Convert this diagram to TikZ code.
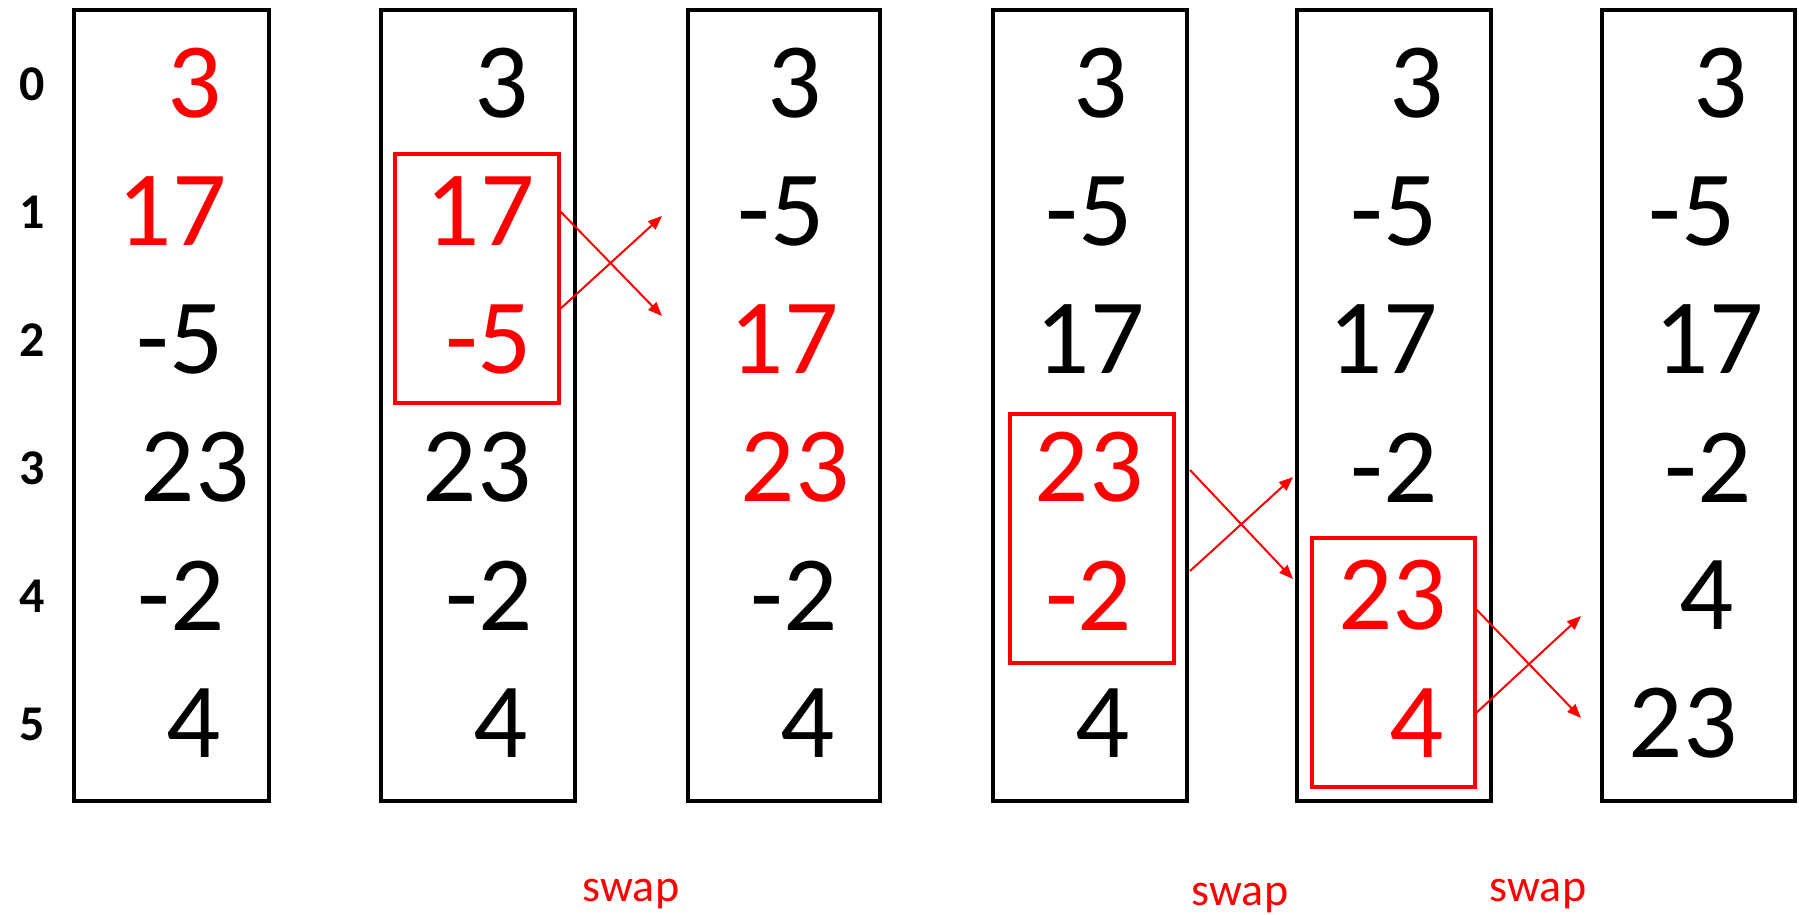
\documentclass[tikz,border=0pt]{standalone}
\usepackage{fontspec}
\setmainfont{Carlito}
\usetikzlibrary{arrows.meta}
\definecolor{hred}{RGB}{255,0,0}
\begin{document}
\begin{tikzpicture}[x=1pt,y=-1pt,
  colbox/.style={draw=black,line width=4pt,inner sep=0pt,outer sep=0pt,minimum height=791pt},
  redbox/.style={draw=hred,line width=4pt,inner sep=0pt,outer sep=0pt,minimum width=164pt,minimum height=249pt},
  num/.style={inner sep=0pt,font=\fontsize{107}{120}\selectfont},
  rnum/.style={num,text=hred},
  idx/.style={inner sep=0pt,font=\fontsize{50}{54}\selectfont\bfseries},
  swaplbl/.style={inner sep=0pt,anchor=base,text=hred,font=\fontsize{46}{50}\selectfont},
  swaparrow/.style={draw=hred,line width=2pt,-{Triangle[length=14pt,width=11pt]}}]
\useasboundingbox (0,0) rectangle (1799,914);
% columns
\node[colbox,minimum width=195pt] (c1) at (171.5,405.5) {};
\node[colbox,minimum width=194pt] (c2) at (478,405.5) {};
\node[colbox,minimum width=192pt] (c3) at (784,405.5) {};
\node[colbox,minimum width=194pt] (c4) at (1090,405.5) {};
\node[colbox,minimum width=194pt] (c5) at (1394,405.5) {};
\node[colbox,minimum width=193pt] (c6) at (1698.5,405.5) {};
% index labels
\node[idx] (i0) at (32,84) {0};
\node[idx] (i1) at (32,212) {1};
\node[idx] (i2) at (32,340) {2};
\node[idx] (i3) at (32,468) {3};
\node[idx] (i4) at (32,596) {4};
\node[idx] (i5) at (32,724) {5};
% column 1
\node[rnum] (n10) at (195,83.5) {3};
\node[rnum] (n11) at (172,211.5) {17};
\node[num] (n12) at (180,339.5) {-5};
\node[num] (n13) at (195,467.5) {23};
\node[num] (n14) at (181,595.5) {-2};
\node[num] (n15) at (194,723.5) {4};
% column 2
\node[num] (n20) at (502,83.5) {3};
\node[rnum] (n21) at (480,211.5) {17};
\node[rnum] (n22) at (488.5,339.5) {-5};
\node[num] (n23) at (477,467.5) {23};
\node[num] (n24) at (489,595.5) {-2};
\node[num] (n25) at (501,723.5) {4};
% column 3
\node[num] (n30) at (795,83.5) {3};
\node[num] (n31) at (781,211.5) {-5};
\node[rnum] (n32) at (784,339.5) {17};
\node[rnum] (n33) at (795,467.5) {23};
\node[num] (n34) at (794,595.5) {-2};
\node[num] (n35) at (808,723.5) {4};
% column 4
\node[num] (n40) at (1101,83.5) {3};
\node[num] (n41) at (1089,211.5) {-5};
\node[num] (n42) at (1090,339.5) {17};
\node[rnum] (n43) at (1089,467.5) {23};
\node[rnum] (n44) at (1088.5,595.5) {-2};
\node[num] (n45) at (1103,723.5) {4};
% column 5
\node[num] (n50) at (1417,83.5) {3};
\node[num] (n51) at (1394,211.5) {-5};
\node[num] (n52) at (1383,339.5) {17};
\node[num] (n53) at (1394,467.5) {-2};
\node[rnum] (n54) at (1392.5,595.5) {23};
\node[rnum] (n55) at (1417,723.5) {4};
% column 6
\node[num] (n60) at (1721,83.5) {3};
\node[num] (n61) at (1692,211.5) {-5};
\node[num] (n62) at (1709,339.5) {17};
\node[num] (n63) at (1708,467.5) {-2};
\node[num] (n64) at (1707,595.5) {4};
\node[num] (n65) at (1683,723.5) {23};
% red boxes
\node[redbox] (b2) at (477,278.5) {};
\node[redbox] (b4) at (1092,538.5) {};
\node[redbox,minimum width=163pt] (b5) at (1393.5,662.5) {};
% arrow end points
\coordinate (a1s) at (559,210);
\coordinate (a1e) at (662,316);
\coordinate (a2s) at (559,310);
\coordinate (a2e) at (662,216);
\coordinate (a3s) at (1190,470);
\coordinate (a3e) at (1293,579);
\coordinate (a4s) at (1190,571);
\coordinate (a4e) at (1293,477);
\coordinate (a5s) at (1475,608);
\coordinate (a5e) at (1581,718);
\coordinate (a6s) at (1475,714);
\coordinate (a6e) at (1581,616);
\draw[swaparrow] (a1s) -- (a1e);
\draw[swaparrow] (a2s) -- (a2e);
\draw[swaparrow] (a3s) -- (a3e);
\draw[swaparrow] (a4s) -- (a4e);
\draw[swaparrow] (a5s) -- (a5e);
\draw[swaparrow] (a6s) -- (a6e);
% swap labels
\node[swaplbl] (s1) at (631,901) {swap};
\node[swaplbl] (s2) at (1240,905) {swap};
\node[swaplbl] (s3) at (1538,901) {swap};
\end{tikzpicture}
\end{document}
